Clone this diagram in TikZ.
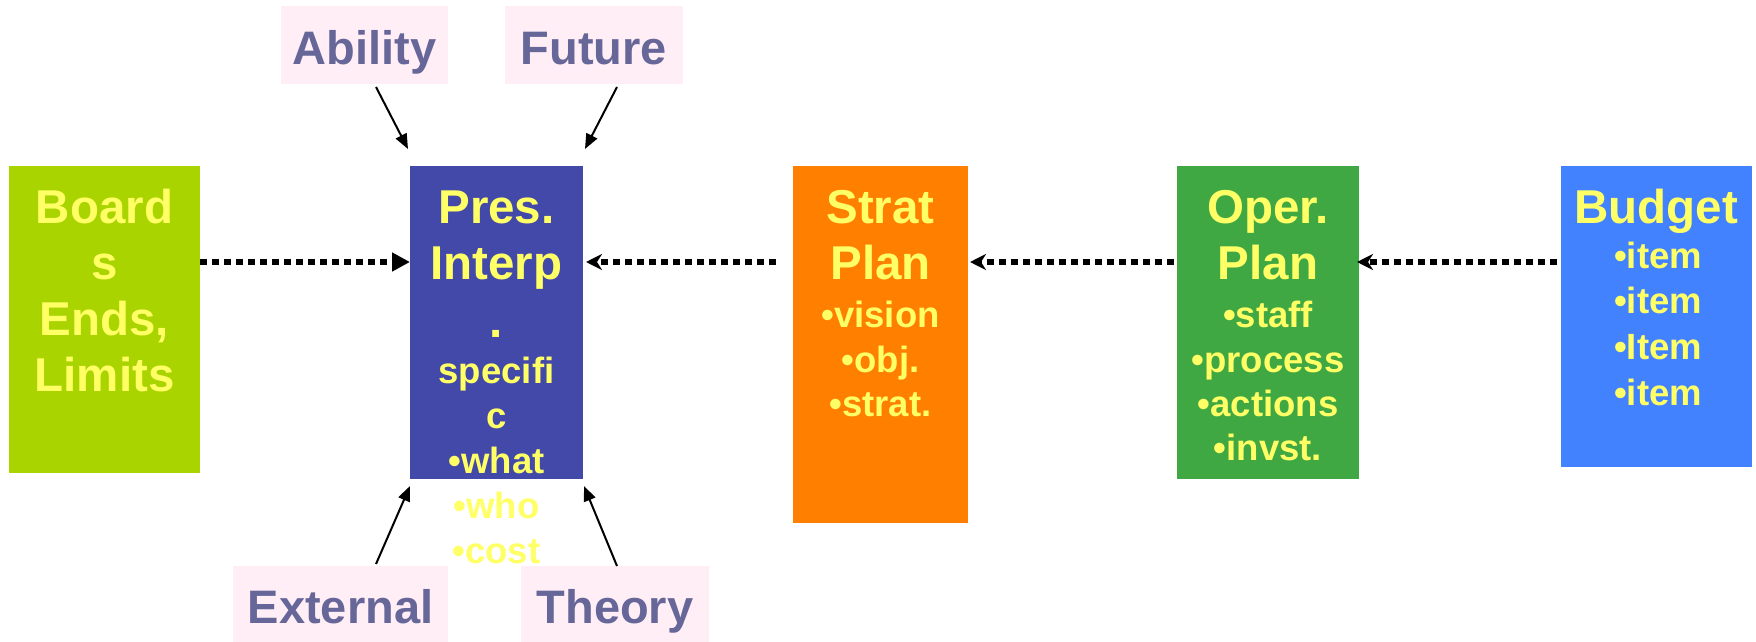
\documentclass[tikz,border=0pt]{standalone}
\usepackage{fontspec}
\setmainfont{Liberation Sans}
\usetikzlibrary{arrows.meta}
\definecolor{cBoard}{HTML}{AAD400}
\definecolor{cPres}{HTML}{4349A8}
\definecolor{cStrat}{HTML}{FF7F00}
\definecolor{cOper}{HTML}{3FA843}
\definecolor{cBudget}{HTML}{4382FF}
\definecolor{cYel}{HTML}{FFFF66}
\definecolor{cLab}{HTML}{666699}
\definecolor{cPink}{HTML}{FFEEF5}
\tikzset{
  box/.style={rectangle, inner sep=0pt, outer sep=0pt, anchor=north west},
  ttl/.style={anchor=base, inner sep=0pt, text=cYel, font=\fontsize{47.5}{50}\selectfont\bfseries},
  sub/.style={anchor=base, inner sep=0pt, text=cYel, font=\fontsize{36.5}{40}\selectfont\bfseries},
  lab/.style={rectangle, fill=cPink, inner sep=0pt, outer sep=0pt, anchor=north west, text=cLab,
              font=\fontsize{47}{50}\selectfont\bfseries, text height=39pt, text depth=0pt},
  dots/.style={line width=5.5pt, dash pattern=on 7pt off 5pt, draw=black},
  thin/.style={line width=2pt, draw=black, -{Triangle[length=15pt,width=12pt]}}
}
\begin{document}
\begin{tikzpicture}[x=1pt,y=-1pt]
\useasboundingbox (0,0) rectangle (1756,642);
\fill[white] (0,0) rectangle (1756,642);
% boxes
\node[box, fill=cBoard, minimum width=191pt, minimum height=307pt] (board) at (9,166) {};
\node[box, fill=cPres, minimum width=173pt, minimum height=313pt] (pres) at (410,166) {};
\node[box, fill=cStrat, minimum width=175pt, minimum height=357pt] (strat) at (793,166) {};
\node[box, fill=cOper, minimum width=182pt, minimum height=313pt] (oper) at (1177,166) {};
\node[box, fill=cBudget, minimum width=191pt, minimum height=301pt] (budget) at (1561,166) {};
% labels
\node[lab, minimum width=167pt, minimum height=78pt] (ability) at (281,6) {Ability};
\node[lab, minimum width=178pt, minimum height=78pt] (future) at (505,6) {Future};
\node[lab, minimum width=215pt, minimum height=76pt] (external) at (233,566) {External};
\node[lab, minimum width=188pt, minimum height=76pt] (theory) at (521,566) {Theory};
% board text
\node[ttl] (b1) at (104.5,223) {Board};
\node[ttl] (b2) at (104.5,279) {s};
\node[ttl] (b3) at (104.5,335) {Ends,};
\node[ttl] (b4) at (104.5,391) {Limits};
% pres text
\node[ttl] (p1) at (496.5,223) {Pres.};
\node[ttl] (p2) at (496.5,279) {Interp};
\node[ttl] (p3) at (496.5,337) {.};
\node[sub] (p4) at (496.5,383) {specifi};
\node[sub] (p5) at (496.5,428) {c};
\node[sub] (p6) at (496.5,473) {•what};
\node[sub] (p7) at (496.5,518) {•who};
\node[sub] (p8) at (496.5,563) {•cost};
% strat text
\node[ttl] (s1) at (880.5,223) {Strat};
\node[ttl] (s2) at (880.5,279) {Plan};
\node[sub] (s3) at (880.5,327) {•vision};
\node[sub] (s4) at (880.5,372) {•obj.};
\node[sub] (s5) at (880.5,416) {•strat.};
% oper text
\node[ttl] (o1) at (1268,223) {Oper.};
\node[ttl] (o2) at (1268,279) {Plan};
\node[sub] (o3) at (1268,327) {•staff};
\node[sub] (o4) at (1268,372) {•process};
\node[sub] (o5) at (1268,416) {•actions};
\node[sub] (o6) at (1268,460) {•invst.};
% budget text
\node[ttl] (u1) at (1656,223) {Budget};
\node[sub] (u2) at (1658,268) {•item};
\node[sub] (u3) at (1658,313) {•item};
\node[sub] (u4) at (1658,359) {•Item};
\node[sub] (u5) at (1658,405) {•item};
% dotted arrows
\coordinate (mid) at (0,262);
\draw[dots, -{Triangle[length=18pt,width=18pt]}] (board.east |- mid) -- (pres.west |- mid);
\draw[dots, -{Stealth[length=16pt,width=16pt,inset=5pt]}] ([xshift=-17pt]strat.west |- mid) -- ([xshift=3pt]pres.east |- mid);
\draw[dots, -{Stealth[length=16pt,width=16pt,inset=5pt]}] ([xshift=-3pt]oper.west |- mid) -- ([xshift=2pt]strat.east |- mid);
\draw[dots, -{Stealth[length=16pt,width=16pt,inset=5pt]}] ([xshift=-4pt]budget.west |- mid) -- ([xshift=-2pt]oper.east |- mid);
% thin arrows
\draw[thin] ([xshift=11.5pt,yshift=-3pt]ability.south) -- ([xshift=-2pt,yshift=17pt]pres.north west);
\draw[thin] ([xshift=23pt,yshift=-3pt]future.south) -- ([xshift=2pt,yshift=17pt]pres.north east);
\draw[thin] ([xshift=35.5pt,yshift=2pt]external.north) -- ([yshift=-7pt]pres.south west);
\draw[thin] ([xshift=2pt]theory.north) -- ([xshift=1pt,yshift=-7pt]pres.south east);
\end{tikzpicture}
\end{document}
